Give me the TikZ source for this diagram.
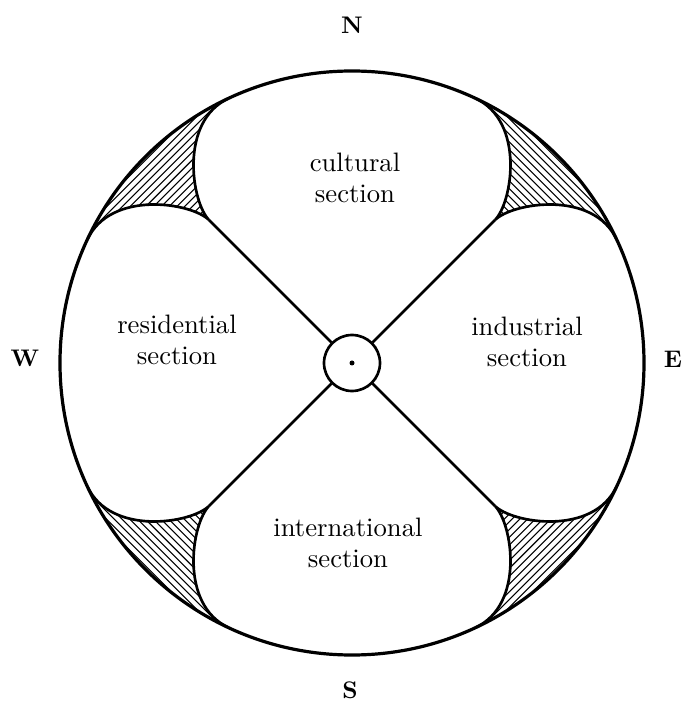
\documentclass[tikz,border=0pt]{standalone}
\usepackage{fontspec}
\newfontfamily\plainfont[Extension=.otf,BoldFont=lmroman10-bold]{lmroman10-regular}
\begin{document}
\begin{tikzpicture}[x=0.75pt,y=0.75pt,
  rim/.style={line width=2.4pt},
  spoke/.style={line width=2pt},
  hatch/.style={line width=0.8pt},
  section/.style={align=center,font=\plainfont\fontsize{20}{23}\selectfont},
  compass/.style={font=\plainfont\fontsize{18}{18}\selectfont\bfseries},
  hub/.style={circle,draw,line width=2pt,minimum size=42pt,inner sep=0pt}]

  \useasboundingbox (-352,-346) rectangle (330,363);

  \node[hub] (hub) at (0,0) {};
  \fill (hub.center) circle (2.5);

  % one gap between two sections, turned four times
  \foreach \r in {0,90,180,270}{
    \begin{scope}[rotate=\r]
      \coordinate (cusp\r) at (135:202);
      \begin{scope}
        \clip (115:292) .. controls (-173.2,241.4) and (-160.5,160.5) .. (cusp\r)
          .. controls (-160.5,160.5) and (-241.4,173.2) .. (155:292)
          arc[start angle=155,end angle=115,radius=292] -- cycle;
        \foreach \d in {196,201.5,...,298}
          \draw[hatch] (135:\d) ++(225:120) -- ++(45:240);
      \end{scope}
      \draw[spoke] (115:292) .. controls (-173.2,241.4) and (-160.5,160.5) .. (cusp\r)
        .. controls (-160.5,160.5) and (-241.4,173.2) .. (155:292);
      \draw[spoke] (hub) -- (cusp\r);
    \end{scope}
  }

  \draw[rim] (0,0) circle (292);

  \node[section] (cultural) at (3,185) {cultural\\section};
  \node[section] (residential) at (-175,23) {residential\\section};
  \node[section] (industrial) at (175,21) {industrial\\section};
  \node[section] (international) at (-4,-180) {international\\section};

  \node[compass] (north) at (0,338) {N};
  \node[compass] (west) at (-327,5) {W};
  \node[compass] (east) at (321,4) {E};
  \node[compass] (south) at (-2,-327) {S};
\end{tikzpicture}
\end{document}
